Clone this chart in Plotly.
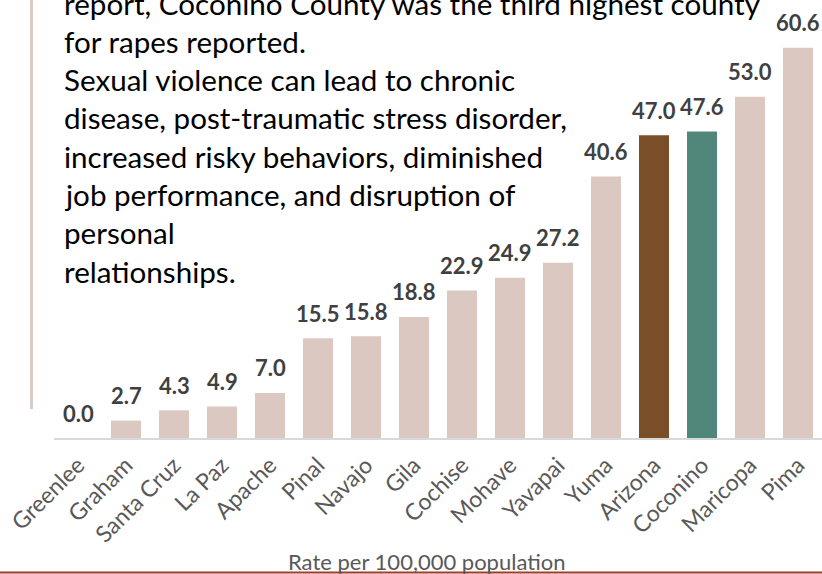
import plotly.graph_objects as go

categories = ["Greenlee", "Graham", "Santa Cruz", "La Paz", "Apache", "Pinal", "Navajo", "Gila",
              "Cochise", "Mohave", "Yavapai", "Yuma", "Arizona", "Coconino", "Maricopa", "Pima"]
rates = [0.0, 2.7, 4.3, 4.9, 7.0, 15.5, 15.8, 18.8, 22.9, 24.9, 27.2, 40.6, 47.0, 47.6, 53.0, 60.6]
body_lines = [
    "report, Coconino County was the third highest county",
    "for rapes reported.",
    "Sexual violence can lead to chronic",
    "disease, post-traumatic stress disorder,",
    "increased risky behaviors, diminished",
    "job performance, and disruption of",
    "personal",
    "relationships.",
]
axis_title = "Rate per 100,000 population"

LIGHT = "#DBC9C1"
BROWN = "#7A4E28"
TEAL = "#51877B"
colors = [BROWN if c == "Arizona" else TEAL if c == "Coconino" else LIGHT for c in categories]

W, H = 822, 574
T, B, L, R = 13, 136, 54, 0
plot_h = H - T - B

fig = go.Figure()
fig.add_trace(go.Bar(
    x=categories, y=rates, marker=dict(color=colors, line=dict(width=0)),
    hoverinfo="skip",
))

annotations = []
for c, v in zip(categories, rates):
    annotations.append(dict(
        x=c, y=v, xref="x", yref="y", text=f"{v:.1f}", showarrow=False,
        yanchor="middle", yshift=25,
        font=dict(family="Lato", size=22, color="#404040", weight="bold"),
    ))

def paper_y(py):
    return (H - B - py) / plot_h

for i, line in enumerate(body_lines):
    annotations.append(dict(
        x=(62 - L) / (W - L - R), y=paper_y(3 + i * 38.3), xref="paper", yref="paper",
        text=line, showarrow=False, xanchor="left", yanchor="middle",
        font=dict(family="Lato", size=29.6, color="#000000"),
    ))

annotations.append(dict(
    x=(426 - L) / (W - L - R), y=paper_y(561), xref="paper", yref="paper",
    text=axis_title, showarrow=False, xanchor="center", yanchor="middle",
    font=dict(family="Lato", size=22, color="#595959"),
))

shapes = [
    dict(type="line", xref="paper", yref="paper",
         x0=(31.5 - L) / (W - L - R), x1=(31.5 - L) / (W - L - R),
         y0=paper_y(0), y1=paper_y(409), line=dict(color="#DCCBC4", width=3)),
    dict(type="line", xref="paper", yref="paper",
         x0=-L / (W - L - R), x1=1.0,
         y0=paper_y(572.5), y1=paper_y(572.5), line=dict(color="#A33B2B", width=2)),
]

fig.update_layout(
    width=W, height=H,
    margin=dict(l=L, r=R, t=T, b=B, pad=0),
    paper_bgcolor="white", plot_bgcolor="white",
    bargap=0.375,
    showlegend=False,
    annotations=annotations,
    shapes=shapes,
    xaxis=dict(
        showline=True, linecolor="#D9D9D9", linewidth=1.5,
        ticks="", tickangle=-45, automargin=False, ticklabelstandoff=3,
        tickfont=dict(family="Lato", size=23, color="#595959"),
        showgrid=False, zeroline=False, range=[-0.5, 15.5],
    ),
    yaxis=dict(range=[0, 66], visible=False, showgrid=False, zeroline=False),
)

fig.write_html(
    "out.html",
    config={"displayModeBar": False},
    post_script="document.body.style.margin='0';document.body.style.padding='0';document.body.style.overflow='hidden';",
)
